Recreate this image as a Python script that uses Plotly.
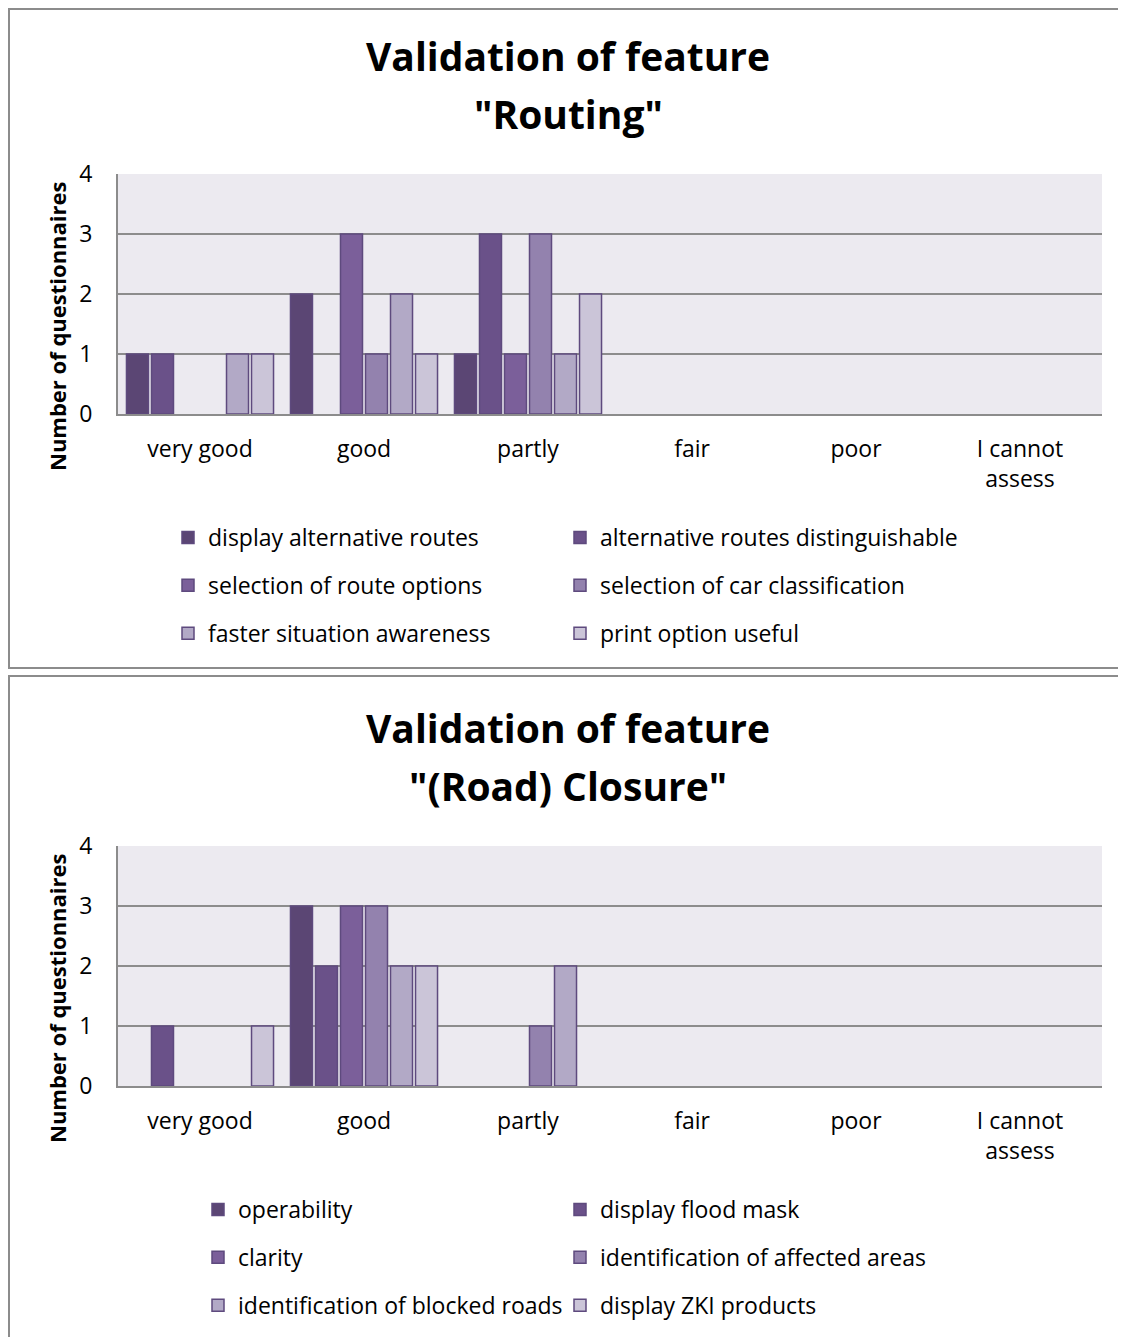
import plotly.graph_objects as go

W, H = 1126, 1337
OFF = 8  # default page body margin

categories = ["very good", "good", "partly", "fair", "poor", "I cannot<br>assess"]

# Routing chart
routing_series = [
    "display alternative routes",
    "alternative routes distinguishable",
    "selection of route options",
    "selection of car classification",
    "faster situation awareness",
    "print option useful",
]
routing_display_alt = [1, 2, 1, 0, 0, 0]
routing_alt_distinguishable = [1, 0, 3, 0, 0, 0]
routing_route_options = [0, 3, 1, 0, 0, 0]
routing_car_class = [0, 1, 3, 0, 0, 0]
routing_faster_sa = [1, 2, 1, 0, 0, 0]
routing_print = [1, 1, 2, 0, 0, 0]

# Road closure chart
closure_series = [
    "operability",
    "display flood mask",
    "clarity",
    "identification of affected areas",
    "identification of blocked roads",
    "display ZKI products",
]
closure_operability = [0, 3, 0, 0, 0, 0]
closure_flood_mask = [1, 2, 0, 0, 0, 0]
closure_clarity = [0, 3, 0, 0, 0, 0]
closure_affected = [0, 3, 1, 0, 0, 0]
closure_blocked = [0, 2, 2, 0, 0, 0]
closure_zki = [1, 2, 0, 0, 0, 0]

colors = ["#5B4674", "#6A5189", "#7B5F9A", "#9382AE", "#B2A9C6", "#CBC5D8"]
outline = "#5E4A7E"
FONT = "Open Sans"
TXT = 23


def px(x):
    return (x - OFF) / W


def py(y):
    return 1 - (y - OFF) / H


fig = go.Figure()

routing_vals = [routing_display_alt, routing_alt_distinguishable, routing_route_options,
                routing_car_class, routing_faster_sa, routing_print]
closure_vals = [closure_operability, closure_flood_mask, closure_clarity,
                closure_affected, closure_blocked, closure_zki]


def add_series(names, valsets, xa, ya, legs, prefix):
    for i, (name, vals) in enumerate(zip(names, valsets)):
        # visible bars (zero-height bars get no outline)
        fig.add_trace(go.Bar(
            x=categories, y=vals, name=name, xaxis=xa, yaxis=ya,
            marker=dict(color=colors[i],
                        line=dict(color=outline, width=[1.5 if v > 0 else 0 for v in vals])),
            showlegend=False, legendgroup=f"{prefix}{i}",
        ))
    for i, name in enumerate(names):
        # legend entries on a hidden helper subplot
        fig.add_trace(go.Bar(
            x=[categories[0]], y=[None], name=name, xaxis="x3", yaxis="y3",
            marker=dict(color=colors[i], line=dict(color=outline, width=1.5)),
            legend=legs[i % 2], legendgroup=f"{prefix}{i}", showlegend=True,
            hoverinfo="skip",
        ))


add_series(routing_series, routing_vals, "x", "y", ["legend", "legend2"], "r")
add_series(closure_series, closure_vals, "x2", "y2", ["legend3", "legend4"], "c")

axis_common_x = dict(
    showgrid=False, showline=True, linecolor="#8C8C8C", linewidth=2,
    ticks="outside", ticklen=13, tickcolor="rgba(0,0,0,0)",
    tickfont=dict(family=FONT, size=TXT, color="#000"),
    fixedrange=True, automargin=False,
)
axis_common_y = dict(
    range=[0, 4], dtick=1, showgrid=True, gridcolor="#8C8C8C", gridwidth=2,
    showline=True, linecolor="#8C8C8C", linewidth=2, zeroline=False,
    ticks="outside", ticklen=19, tickcolor="rgba(0,0,0,0)",
    tickfont=dict(family=FONT, size=TXT, color="#000"),
    fixedrange=True, automargin=False,
)


def legend_cfg(x, y):
    return dict(
        x=px(x), y=py(y), xanchor="left", yanchor="top",
        orientation="v", bgcolor="rgba(0,0,0,0)",
        font=dict(family=FONT, size=TXT, color="#000"),
        tracegroupgap=15, traceorder="grouped",
    )


fig.update_layout(
    width=W, height=H,
    margin=dict(l=0, r=0, t=0, b=0, autoexpand=False),
    paper_bgcolor="white",
    plot_bgcolor="#ECEAF0",
    barmode="group", bargap=0.085, bargroupgap=0.12,
    xaxis=dict(domain=[px(118), px(1102)], anchor="y", **axis_common_x),
    yaxis=dict(domain=[py(414), py(174)], anchor="x", **axis_common_y),
    xaxis2=dict(domain=[px(118), px(1102)], anchor="y2", **axis_common_x),
    yaxis2=dict(domain=[py(1086), py(846)], anchor="x2", **axis_common_y),
    xaxis3=dict(domain=[0, 0.001], anchor="y3", visible=False, fixedrange=True),
    yaxis3=dict(domain=[0.999, 1], anchor="x3", visible=False, fixedrange=True),
    legend=legend_cfg(168, 516),
    legend2=legend_cfg(560, 516),
    legend3=legend_cfg(198, 1188),
    legend4=legend_cfg(560, 1188),
    showlegend=True,
)

# panel borders
for y0, y1 in [(9, 668), (676, 1360)]:
    fig.add_shape(type="rect", xref="paper", yref="paper",
                  x0=px(9), x1=px(1160), y0=py(y1), y1=py(y0),
                  line=dict(color="#8C8C8C", width=2), fillcolor="rgba(0,0,0,0)",
                  layer="below")

titles = [("Validation of feature", 55), ('"Routing"', 113),
          ("Validation of feature", 727), ('"(Road) Closure"', 785)]
for text, y in titles:
    fig.add_annotation(text=f"<b>{text}</b>", xref="paper", yref="paper",
                       x=px(568), y=py(y), xanchor="center", yanchor="middle",
                       showarrow=False, font=dict(family=FONT, size=39, color="#000"))

for yc in [326, 998]:
    fig.add_annotation(text="<b>Number of questionnaires</b>", xref="paper", yref="paper",
                       x=px(57), y=py(yc), xanchor="center", yanchor="middle",
                       textangle=-90, showarrow=False,
                       font=dict(family=FONT, size=22, color="#000"))

fig.write_html("out.html")
